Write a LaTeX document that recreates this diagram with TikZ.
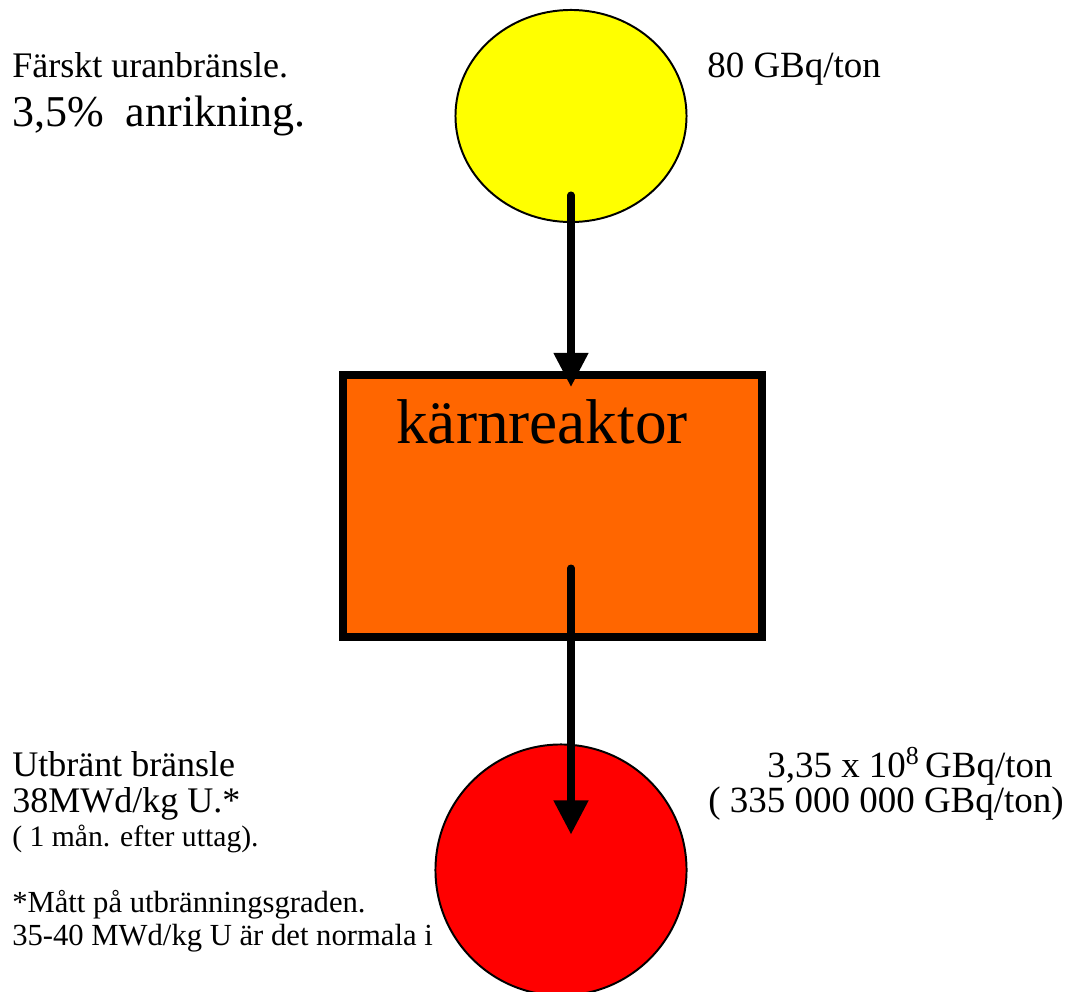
\documentclass[tikz,border=0pt]{standalone}
\usepackage{fontspec}
\setmainfont{Liberation Serif}
\usetikzlibrary{arrows.meta,shapes.geometric,calc}
\definecolor{FreshYellow}{RGB}{255,255,0}
\definecolor{CoreOrange}{RGB}{255,102,0}
\definecolor{SpentRed}{RGB}{255,0,0}

\begin{document}
\begin{tikzpicture}[
  x=0.025cm, y=-0.025cm,
  pellet/.style={
    ellipse,
    draw=black,
    line width=1.4pt,
    inner sep=0pt
  },
  core/.style={
    rectangle,
    draw=black,
    line width=5.7pt,
    fill=CoreOrange,
    inner sep=0pt,
    minimum width=10.475cm,
    minimum height=6.55cm
  },
  arrow/.style={-{Triangle[length=0.85cm, width=0.83cm]}, line width=5pt, line cap=round},
  txt/.style={anchor=base west, inner sep=0pt},
  big/.style={txt, font=\fontsize{25.6}{30}\selectfont},
  bigger/.style={txt, font=\fontsize{26.3}{30}\selectfont},
  small/.style={txt, font=\fontsize{21.8}{26}\selectfont}
]

  \useasboundingbox (0,0) rectangle (1067,992);
  \clip (0,0) rectangle (1067,992);

  \node[pellet, fill=FreshYellow, minimum width=5.775cm, minimum height=5.3cm] (fresh) at (571,116) {};
  \node[core] (reactor) at (552.5,506) {};
  \node[txt, font=\fontsize{45}{50}\selectfont] (reactorname) at (396,443) {kärnreaktor};
  \node[pellet, fill=SpentRed, minimum width=6.275cm, minimum height=6.275cm] (spent) at (561,870) {};

  % fresh fuel
  \node[big] (freshname) at (12,78) {Färskt uranbränsle.};
  \node[txt, font=\fontsize{31.3}{36}\selectfont] (enrich) at (12,127) {3,5\%\ \ anrikning.};
  \node[bigger] (freshact) at (707,78) {80 GBq/ton};

  % spent fuel
  \node[big] (spentname) at (12,776) {Utbränt bränsle};
  \node[big] (burnup) at (12,812) {38MWd/kg U.*};
  \node[txt, font=\fontsize{21.1}{26}\selectfont] (after) at (12,846) {( 1 mån. efter uttag).};
  \node[small] (note) at (12,912) {*Mått på utbränningsgraden.};
  \node[small] (normal) at (12,945) {35-40 MWd/kg U är det normala i};
  \node[bigger] (spentact) at (767,777) {3,35 x 10\textsuperscript{8}\hspace{0.15em}GBq/ton};
  \node[bigger] (spentfull) at (708,812) {( 335 000 000 GBq/ton)};

  \draw[arrow] ($(fresh.south)+(0,-28)$) -- ($(fresh.south |- reactor.north)+(0,16)$);
  \draw[arrow] ($(fresh.south |- reactor.south)+(0,-73)$) -- ($(fresh.south |- spent.north)+(0,91)$);

\end{tikzpicture}
\end{document}
